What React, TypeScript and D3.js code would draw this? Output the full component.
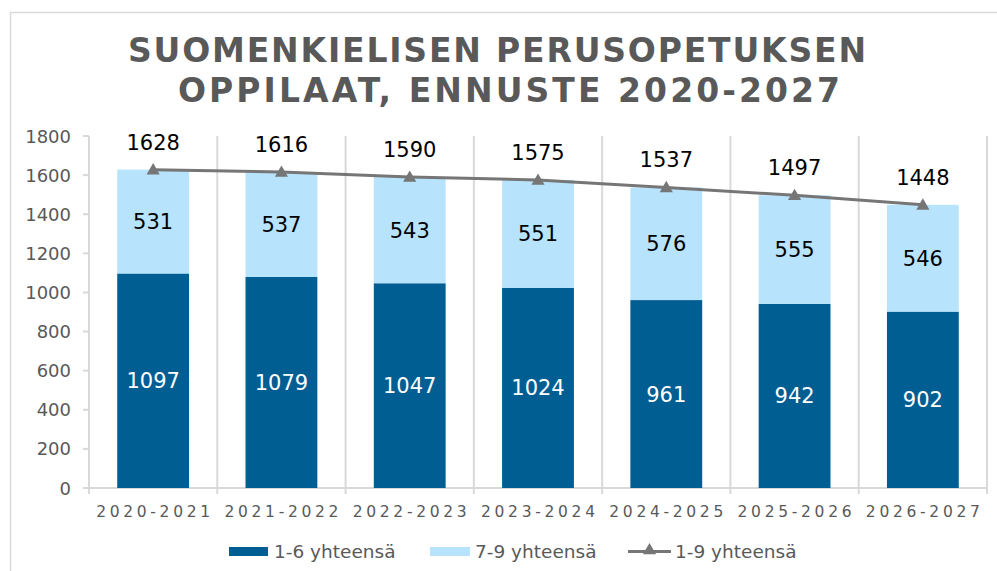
import React from "react";
import * as d3 from "d3";

const categories = ["2020-2021", "2021-2022", "2022-2023", "2023-2024", "2024-2025", "2025-2026", "2026-2027"];
const grades16 = [1097, 1079, 1047, 1024, 961, 942, 902];
const grades79 = [531, 537, 543, 551, 576, 555, 546];
const totals19 = [1628, 1616, 1590, 1575, 1537, 1497, 1448];
const yTicks = [0, 200, 400, 600, 800, 1000, 1200, 1400, 1600, 1800];
const titleLines = ["SUOMENKIELISEN PERUSOPETUKSEN", "OPPILAAT, ENNUSTE 2020-2027"];
const seriesNames = ["1-6 yhteensä", "7-9 yhteensä", "1-9 yhteensä"];

const W = 997;
const H = 571;
const plotLeft = 89;
const plotRight = 987;
const plotBottom = 488;
const plotTop = 136;

const DARK = "#005E93";
const LIGHT = "#B7E3FC";
const LINE = "#767676";
const GRID = "#D9D9D9";
const TEXT = "#595959";
const FONT = "Verdana, 'DejaVu Sans', sans-serif";

export default function App() {
  const x = d3.scaleBand<string>().domain(categories).range([plotLeft, plotRight]).paddingInner(0.44).paddingOuter(0.22);
  const xb = d3.scaleBand<string>().domain(categories).range([plotLeft, plotRight]).padding(0);
  const y = d3.scaleLinear().domain([0, 1800]).range([plotBottom, plotTop]);

  const lineGen = d3
    .line<number>()
    .x((_, i) => (xb(categories[i]) as number) + xb.bandwidth() / 2)
    .y((d) => y(d));

  const boundaries = d3.range(categories.length + 1).map((i) => plotLeft + i * xb.bandwidth());
  const tri = d3.symbol().type(d3.symbolTriangle).size(75)();

  return (
    <svg width={W} height={H} style={{ position: "absolute", left: 0, top: 0, background: "#fff" }} fontFamily={FONT}>
      <rect x={10.5} y={12.5} width={W + 10} height={H + 10} fill="#fff" stroke={GRID} strokeWidth={1.5} />
      {/* title */}
      <text x={497} y={62} textAnchor="middle" fontSize={33} fontWeight="bold" fill={TEXT} textLength={738} lengthAdjust="spacing">
        {titleLines[0]}
      </text>
      <text x={509} y={102} textAnchor="middle" fontSize={33} fontWeight="bold" fill={TEXT} textLength={662} lengthAdjust="spacing">
        {titleLines[1]}
      </text>

      {/* vertical grid lines */}
      {boundaries.map((bx, i) => (
        <line key={"g" + i} x1={bx} x2={bx} y1={plotTop} y2={plotBottom + 6} stroke={GRID} strokeWidth={2} />
      ))}
      {/* x axis line */}
      <line x1={plotLeft - 6} x2={plotRight} y1={plotBottom} y2={plotBottom} stroke={GRID} strokeWidth={2} />
      {/* y ticks */}
      {yTicks.map((t) => (
        <g key={"yt" + t}>
          <line x1={plotLeft - 6} x2={plotLeft} y1={y(t)} y2={y(t)} stroke={GRID} strokeWidth={2} />
          <text x={71} y={y(t) + 6.5} textAnchor="end" fontSize={18} fill={TEXT}>
            {t}
          </text>
        </g>
      ))}

      {/* bars */}
      {categories.map((c, i) => {
        const bx = x(c) as number;
        const bw = x.bandwidth();
        const cx = bx + bw / 2;
        const y0 = y(0);
        const y1 = y(grades16[i]);
        const y2 = y(grades16[i] + grades79[i]);
        return (
          <g key={"b" + c}>
            <rect x={bx} y={y1} width={bw} height={y0 - y1} fill={DARK} />
            <rect x={bx} y={y2} width={bw} height={y1 - y2} fill={LIGHT} />
            <text x={cx} y={(y0 + y1) / 2 + 7.5} textAnchor="middle" fontSize={21} fill="#fff">
              {grades16[i]}
            </text>
            <text x={cx} y={(y1 + y2) / 2 + 7.5} textAnchor="middle" fontSize={21} fill="#000">
              {grades79[i]}
            </text>
          </g>
        );
      })}

      {/* total line */}
      <path d={lineGen(totals19) || ""} fill="none" stroke={LINE} strokeWidth={3} />
      {totals19.map((v, i) => {
        const cx = (xb(categories[i]) as number) + xb.bandwidth() / 2;
        return (
          <g key={"t" + i}>
            <path d={tri || ""} transform={`translate(${cx},${y(v) + 1})`} fill={LINE} />
            <text x={cx} y={y(v) - 20} textAnchor="middle" fontSize={21} fill="#000">
              {v}
            </text>
          </g>
        );
      })}

      {/* x labels */}
      {categories.map((c) => (
        <text
          key={"xl" + c}
          x={(xb(c) as number) + xb.bandwidth() / 2}
          y={517}
          textAnchor="middle"
          fontSize={15.5}
          fill={TEXT}
          textLength={114}
          lengthAdjust="spacing"
        >
          {c}
        </text>
      ))}

      {/* legend */}
      <rect x={229} y={547} width={39} height={9} fill={DARK} />
      <text x={274} y={558} fontSize={18.5} fill={TEXT}>
        {seriesNames[0]}
      </text>
      <rect x={430} y={547} width={40} height={9} fill={LIGHT} />
      <text x={475} y={558} fontSize={18.5} fill={TEXT}>
        {seriesNames[1]}
      </text>
      <line x1={628} x2={671} y1={551.5} y2={551.5} stroke={LINE} strokeWidth={3} />
      <path d={tri || ""} transform="translate(649.5,550.5)" fill={LINE} />
      <text x={675} y={558} fontSize={18.5} fill={TEXT}>
        {seriesNames[2]}
      </text>
    </svg>
  );
}
